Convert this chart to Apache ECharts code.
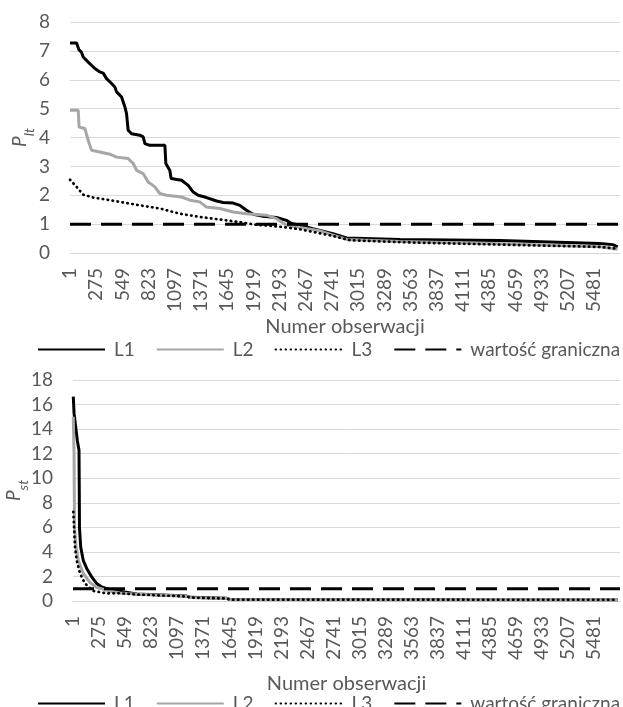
<!DOCTYPE html>
<html>
<head>
<meta charset="utf-8">
<script src="https://cdn.jsdelivr.net/npm/echarts@6/dist/echarts.min.js"></script>
<style>
    html, body { margin: 0; padding: 0; background: #fff; }
    #main { width: 623px; height: 707px; }
</style>
</head>
<body>
<div id="main"></div>
<script>
// numer obserwacji, wartość
var L1_lt = [[1,7.27],[70,7.27],[94,7.04],[120,6.96],[139,6.79],[191,6.61],[261,6.39],[313,6.27],[348,6.23],[383,6.04],
    [436,5.87],[470,5.75],[488,5.58],[540,5.40],[575,5.06],[592,4.83],[609,4.25],[645,4.13],[731,4.08],[766,4.02],
    [784,3.79],[836,3.73],[993,3.73],[1003,3.10],[1045,2.86],[1058,2.58],[1167,2.52],[1237,2.34],[1289,2.11],[1341,2.00],
    [1428,1.92],[1533,1.80],[1602,1.75],[1707,1.73],[1777,1.65],[1846,1.48],[1916,1.34],[2020,1.27],[2160,1.23],[2264,1.13],
    [2317,1.02],[2405,0.96],[2540,0.84],[2750,0.67],[2893,0.52],[3450,0.47],[4495,0.43],[5540,0.33],[5675,0.29],[5727,0.21]];
var L2_lt = [[1,4.94],[87,4.94],[96,4.36],[157,4.31],[191,3.90],[226,3.56],[313,3.50],[418,3.42],[488,3.32],[609,3.27],
    [662,3.10],[697,2.86],[766,2.75],[818,2.46],[888,2.29],[940,2.06],[1010,2.00],[1167,1.94],[1254,1.83],[1358,1.77],
    [1428,1.59],[1567,1.54],[1707,1.42],[1846,1.36],[2055,1.31],[2160,1.19],[2264,0.96],[2404,0.88],[2606,0.77],[2750,0.62],
    [2893,0.47],[3450,0.40],[4495,0.32],[5540,0.22],[5727,0.13]];
var L3_lt = [[1,2.54],[70,2.29],[139,2.02],[244,1.92],[418,1.83],[592,1.73],[731,1.65],[940,1.54],[1150,1.36],[1358,1.25],
    [1567,1.16],[1777,1.07],[1916,0.99],[2229,0.90],[2405,0.82],[2750,0.59],[2930,0.44],[3600,0.36],[5540,0.21],[5727,0.15]];

var L1_st = [[4,16.65],[12,15.3],[46,13.1],[64,12.3],[67,9.0],[69,6.0],[82,4.4],[109,3.3],[145,2.65],[198,1.96],
    [250,1.42],[303,1.14],[390,0.93],[495,0.80],[670,0.57],[1196,0.40],[1231,0.30],[1617,0.22],[1651,0.12],[5727,0.10]];
var L2_st = [[4,15.0],[12,12.0],[17,6.0],[33,4.4],[57,3.3],[109,2.24],[180,1.5],[250,1.1],[390,0.8],[495,0.66],
    [670,0.56],[1196,0.39],[1231,0.29],[1617,0.21],[1651,0.11],[5727,0.10]];
var L3_st = [[4,7.27],[12,6.0],[22,4.4],[40,3.3],[75,2.24],[127,1.42],[214,0.82],[355,0.62],[495,0.63],[670,0.53],
    [1196,0.37],[1231,0.28],[1617,0.20],[1651,0.11],[5727,0.10]];

var granica = 1;
var nObs = 5751;
var krok = 274;
var nazwy = ['L1', 'L2', 'L3', 'wartość graniczna'];

var kolorTekstu = '#595959';
var czcionka = 'Lato';

function xy(arr) {
    return arr.map(function (p) { return [p[0] - 1, p[1]]; });
}

function osX(idx, gap) {
    return {
        type: 'value', gridIndex: idx, min: 0, max: nObs - 1, interval: krok,
        axisLine: {show: true, lineStyle: {color: '#d9d9d9', width: 1}},
        axisTick: {show: false},
        splitLine: {show: false},
        axisLabel: {
            rotate: 90, margin: 15, color: kolorTekstu, fontSize: 19, fontFamily: czcionka,
            showMaxLabel: false,
            formatter: function (v) { return v % krok === 0 ? String(v + 1) : ''; }
        },
        name: 'Numer obserwacji', nameLocation: 'middle', nameGap: gap, nameMoveOverlap: false,
        nameTextStyle: {color: kolorTekstu, fontSize: 20, fontFamily: czcionka}
    };
}

function osY(idx, max, interval, sub, gap) {
    return {
        type: 'value', gridIndex: idx, min: 0, max: max, interval: interval,
        axisLine: {show: false}, axisTick: {show: false},
        splitLine: {lineStyle: {color: '#d9d9d9', width: 1}},
        axisLabel: {margin: 20, color: kolorTekstu, fontSize: 19, fontFamily: czcionka},
        name: '{p|P}{s|' + sub + '}', nameLocation: 'middle', nameGap: gap, nameMoveOverlap: false,
        nameTextStyle: {
            rich: {
                p: {fontSize: 19, fontStyle: 'italic', color: kolorTekstu, fontFamily: czcionka, lineHeight: 26, verticalAlign: 'top'},
                s: {fontSize: 14, fontStyle: 'italic', color: kolorTekstu, fontFamily: czcionka, verticalAlign: 'bottom'}
            }
        }
    };
}

function serie(idx, d1, d2, d3) {
    return [{
        name: 'L1', type: 'line', xAxisIndex: idx, yAxisIndex: idx, symbol: 'none',
        data: xy(d1), lineStyle: {color: '#000', width: 3}, itemStyle: {color: '#000'}
    }, {
        name: 'L2', type: 'line', xAxisIndex: idx, yAxisIndex: idx, symbol: 'none',
        data: xy(d2), lineStyle: {color: '#a6a6a6', width: 3}, itemStyle: {color: '#a6a6a6'}
    }, {
        name: 'L3', type: 'line', xAxisIndex: idx, yAxisIndex: idx, symbol: 'none',
        data: xy(d3), lineStyle: {color: '#000', width: 2.7, type: [0.5, 4.5], cap: 'round'}, itemStyle: {color: '#000'}
    }, {
        name: 'wartość graniczna', type: 'line', xAxisIndex: idx, yAxisIndex: idx, symbol: 'none',
        data: [[0, granica], [nObs - 1, granica]],
        lineStyle: {color: '#000', width: 3, type: [21, 10]}, itemStyle: {color: '#000'}
    }];
}

function legenda(top) {
    return {
        top: top, left: 32, width: 620, itemWidth: 67, itemHeight: 14, itemGap: 21,
        data: nazwy,
        itemStyle: {opacity: 0},
        textStyle: {color: kolorTekstu, fontSize: 19, fontFamily: czcionka, padding: [0, 0, 0, 4]}
    };
}

var myChart = echarts.init(document.getElementById('main'));
var option = {
    animation: false,
    backgroundColor: '#fff',
    grid: [
        {left: 70, right: 3, top: 22, height: 231, outerBoundsMode: 'none'},
        {left: 73, right: 3, top: 380, height: 221, outerBoundsMode: 'none'}
    ],
    xAxis: [osX(0, 64), osX(1, 73)],
    yAxis: [osY(0, 8, 1, 'lt', 34), osY(1, 18, 2, 'st', 43)],
    legend: [legenda(335), legenda(689)],
    series: serie(0, L1_lt, L2_lt, L3_lt).concat(serie(1, L1_st, L2_st, L3_st))
};
myChart.setOption(option);
</script>
</body>
</html>
